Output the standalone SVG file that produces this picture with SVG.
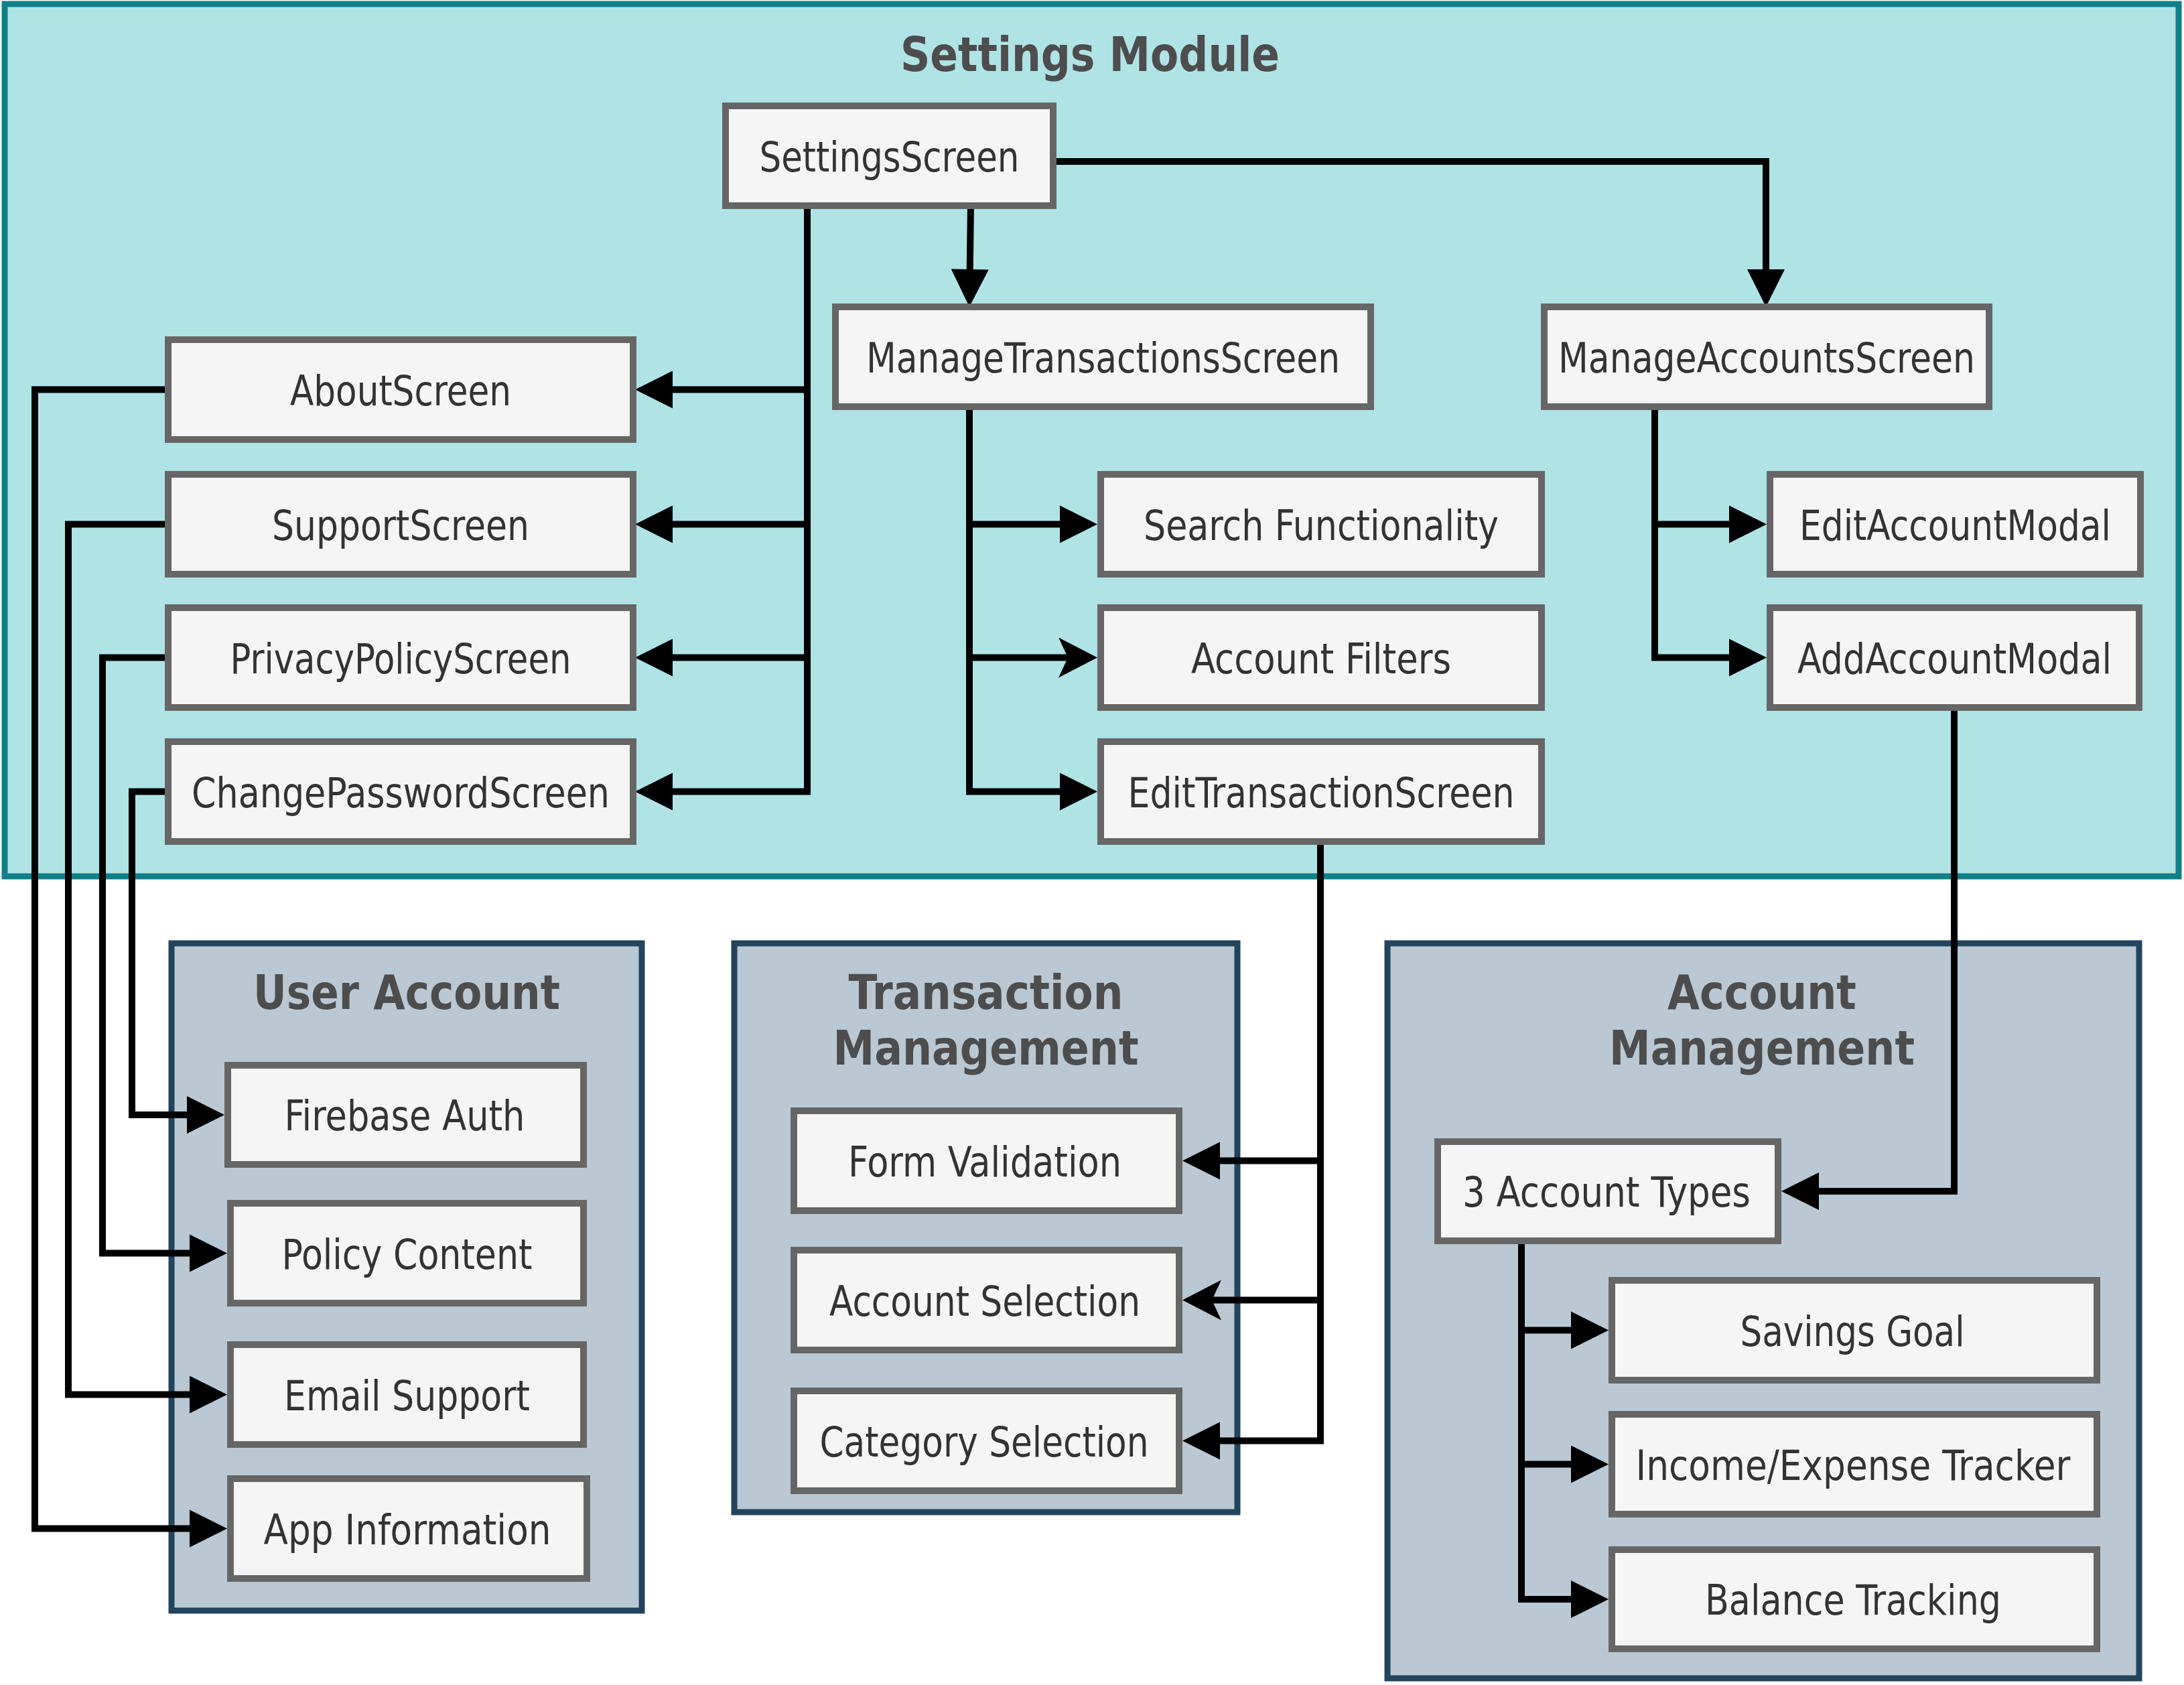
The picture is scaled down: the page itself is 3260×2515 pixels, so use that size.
<svg xmlns="http://www.w3.org/2000/svg" width="3260" height="2515" viewBox="0 0 3260 2515">
<style>
.bg{fill:#ffffff}
.mod{fill:#b0e3e6;stroke:#0e8088;stroke-width:9}
.grp{fill:#bac8d3;stroke:#23445d;stroke-width:9}
.node{fill:#f5f5f5;stroke:#666666;stroke-width:10}
.t{font-family:"DejaVu Sans Condensed","DejaVu Sans",sans-serif;font-size:62px;fill:#333333;text-anchor:middle}
.h{font-family:"DejaVu Sans Condensed","DejaVu Sans",sans-serif;font-size:72px;font-weight:bold;fill:#4d4d4d;text-anchor:middle}
.c{fill:none;stroke:#000000;stroke-width:10;stroke-linejoin:miter}
.b{marker-end:url(#blk)}
.n{marker-end:url(#ntc)}
</style>
<defs>
<marker id="blk" markerUnits="userSpaceOnUse" markerWidth="60" markerHeight="60" refX="16" refY="28" orient="auto" overflow="visible">
<path d="M0,0 L56,28 L0,56 Z" fill="#000000"/>
</marker>
<marker id="ntc" markerUnits="userSpaceOnUse" markerWidth="62" markerHeight="62" refX="18" refY="30" orient="auto" overflow="visible">
<path d="M0,0 L58,30 L0,60 L14,30 Z" fill="#000000"/>
</marker>
</defs>
<rect class="bg" x="0" y="0" width="3260" height="2515"/>

<g id="settings-module">
<rect class="mod" x="7" y="6" width="3245" height="1302"/>
<text class="h" x="1627" y="106" textLength="566" lengthAdjust="spacingAndGlyphs">Settings Module</text>
</g>
<g id="user-account">
<rect class="grp" x="256" y="1408" width="702" height="996"/>
<text class="h" x="607" y="1506" textLength="458" lengthAdjust="spacingAndGlyphs">User Account</text>
</g>
<g id="transaction-management">
<rect class="grp" x="1096" y="1408" width="751" height="849"/>
<text class="h" x="1471.5" y="1506" textLength="410" lengthAdjust="spacingAndGlyphs">Transaction</text>
<text class="h" x="1471.5" y="1589" textLength="456" lengthAdjust="spacingAndGlyphs">Management</text>
</g>
<g id="account-management">
<rect class="grp" x="2071" y="1408" width="1122" height="1097"/>
<text class="h" x="2630" y="1506" textLength="282" lengthAdjust="spacingAndGlyphs">Account</text>
<text class="h" x="2630" y="1589" textLength="456" lengthAdjust="spacingAndGlyphs">Management</text>
</g>

<g id="connectors">
<path class="c b" d="M1449,307 L1447.5,418"/>
<path class="c b" d="M1572,241 H2636 V418"/>
<path class="c b" d="M1205,307 V581.5 H988"/>
<path class="c b" d="M1205,307 V782.5 H988"/>
<path class="c b" d="M1205,307 V981.5 H988"/>
<path class="c b" d="M1205,307 V1181.5 H988"/>
<path class="c b" d="M1447,607 V782.5 H1598"/>
<path class="c n" d="M1447,607 V981.5 H1598"/>
<path class="c b" d="M1447,607 V1181.5 H1598"/>
<path class="c b" d="M2470,607 V782.5 H2597"/>
<path class="c b" d="M2470,607 V981.5 H2597"/>
<path class="c b" d="M2917,1056 V1778 H2699"/>
<path class="c b" d="M1971,1256 V1732.5 H1805"/>
<path class="c n" d="M1971,1256 V1940.5 H1805"/>
<path class="c b" d="M1971,1256 V2150.5 H1805"/>
<path class="c b" d="M2271,1852 V1985.5 H2361"/>
<path class="c b" d="M2271,1852 V2185.5 H2361"/>
<path class="c b" d="M2271,1852 V2387 H2361"/>
<path class="c b" d="M251,581.5 H52 V2281.5 H299"/>
<path class="c b" d="M251,782.5 H102 V2081.5 H299"/>
<path class="c b" d="M251,981.5 H153 V1870.5 H299"/>
<path class="c b" d="M251,1181.5 H197 V1664 H295"/>
</g>

<g id="SettingsScreen"><rect class="node" x="1083" y="158" width="489" height="149"/><text class="t" x="1327.5" y="255.5" textLength="388" lengthAdjust="spacingAndGlyphs">SettingsScreen</text></g>
<g id="ManageTransactionsScreen"><rect class="node" x="1247" y="458" width="799" height="149"/><text class="t" x="1646.5" y="555.5" textLength="707" lengthAdjust="spacingAndGlyphs">ManageTransactionsScreen</text></g>
<g id="ManageAccountsScreen"><rect class="node" x="2305" y="458" width="664" height="149"/><text class="t" x="2637" y="555.5" textLength="622" lengthAdjust="spacingAndGlyphs">ManageAccountsScreen</text></g>
<g id="AboutScreen"><rect class="node" x="251" y="507" width="694" height="149"/><text class="t" x="598" y="604.5" textLength="330" lengthAdjust="spacingAndGlyphs">AboutScreen</text></g>
<g id="SupportScreen"><rect class="node" x="251" y="708" width="694" height="149"/><text class="t" x="598" y="805.5" textLength="384" lengthAdjust="spacingAndGlyphs">SupportScreen</text></g>
<g id="PrivacyPolicyScreen"><rect class="node" x="251" y="907" width="694" height="149"/><text class="t" x="598" y="1004.5" textLength="509" lengthAdjust="spacingAndGlyphs">PrivacyPolicyScreen</text></g>
<g id="ChangePasswordScreen"><rect class="node" x="251" y="1107" width="694" height="149"/><text class="t" x="598" y="1204.5" textLength="624" lengthAdjust="spacingAndGlyphs">ChangePasswordScreen</text></g>
<g id="SearchFunctionality"><rect class="node" x="1643" y="708" width="658" height="149"/><text class="t" x="1972" y="805.5" textLength="530" lengthAdjust="spacingAndGlyphs">Search Functionality</text></g>
<g id="AccountFilters"><rect class="node" x="1643" y="907" width="658" height="149"/><text class="t" x="1972" y="1004.5" textLength="388" lengthAdjust="spacingAndGlyphs">Account Filters</text></g>
<g id="EditTransactionScreen"><rect class="node" x="1643" y="1107" width="658" height="149"/><text class="t" x="1972" y="1204.5" textLength="577" lengthAdjust="spacingAndGlyphs">EditTransactionScreen</text></g>
<g id="EditAccountModal"><rect class="node" x="2642" y="708" width="553" height="149"/><text class="t" x="2918.5" y="805.5" textLength="465" lengthAdjust="spacingAndGlyphs">EditAccountModal</text></g>
<g id="AddAccountModal"><rect class="node" x="2642" y="907" width="551" height="149"/><text class="t" x="2917.5" y="1004.5" textLength="469" lengthAdjust="spacingAndGlyphs">AddAccountModal</text></g>
<g id="FirebaseAuth"><rect class="node" x="340" y="1590" width="531" height="148"/><text class="t" x="604" y="1687" textLength="359" lengthAdjust="spacingAndGlyphs">Firebase Auth</text></g>
<g id="PolicyContent"><rect class="node" x="344" y="1796" width="527" height="149"/><text class="t" x="607.5" y="1893.5" textLength="374" lengthAdjust="spacingAndGlyphs">Policy Content</text></g>
<g id="EmailSupport"><rect class="node" x="344" y="2007" width="527" height="149"/><text class="t" x="607.5" y="2104.5" textLength="367" lengthAdjust="spacingAndGlyphs">Email Support</text></g>
<g id="AppInformation"><rect class="node" x="344" y="2207" width="532" height="149"/><text class="t" x="608" y="2304.5" textLength="429" lengthAdjust="spacingAndGlyphs">App Information</text></g>
<g id="FormValidation"><rect class="node" x="1185" y="1658" width="575" height="149"/><text class="t" x="1470" y="1755.5" textLength="408" lengthAdjust="spacingAndGlyphs">Form Validation</text></g>
<g id="AccountSelection"><rect class="node" x="1185" y="1866" width="575" height="149"/><text class="t" x="1470" y="1963.5" textLength="464" lengthAdjust="spacingAndGlyphs">Account Selection</text></g>
<g id="CategorySelection"><rect class="node" x="1185" y="2076" width="575" height="149"/><text class="t" x="1469" y="2173.5" textLength="491" lengthAdjust="spacingAndGlyphs">Category Selection</text></g>
<g id="AccountTypes"><rect class="node" x="2146" y="1704" width="508" height="148"/><text class="t" x="2398" y="1801" textLength="430" lengthAdjust="spacingAndGlyphs">3 Account Types</text></g>
<g id="SavingsGoal"><rect class="node" x="2406" y="1911" width="724" height="149"/><text class="t" x="2765" y="2008.5" textLength="335" lengthAdjust="spacingAndGlyphs">Savings Goal</text></g>
<g id="IncomeExpenseTracker"><rect class="node" x="2406" y="2111" width="724" height="149"/><text class="t" x="2766" y="2208.5" textLength="649" lengthAdjust="spacingAndGlyphs">Income/Expense Tracker</text></g>
<g id="BalanceTracking"><rect class="node" x="2406" y="2313" width="724" height="148"/><text class="t" x="2766" y="2410" textLength="442" lengthAdjust="spacingAndGlyphs">Balance Tracking</text></g>
</svg>
